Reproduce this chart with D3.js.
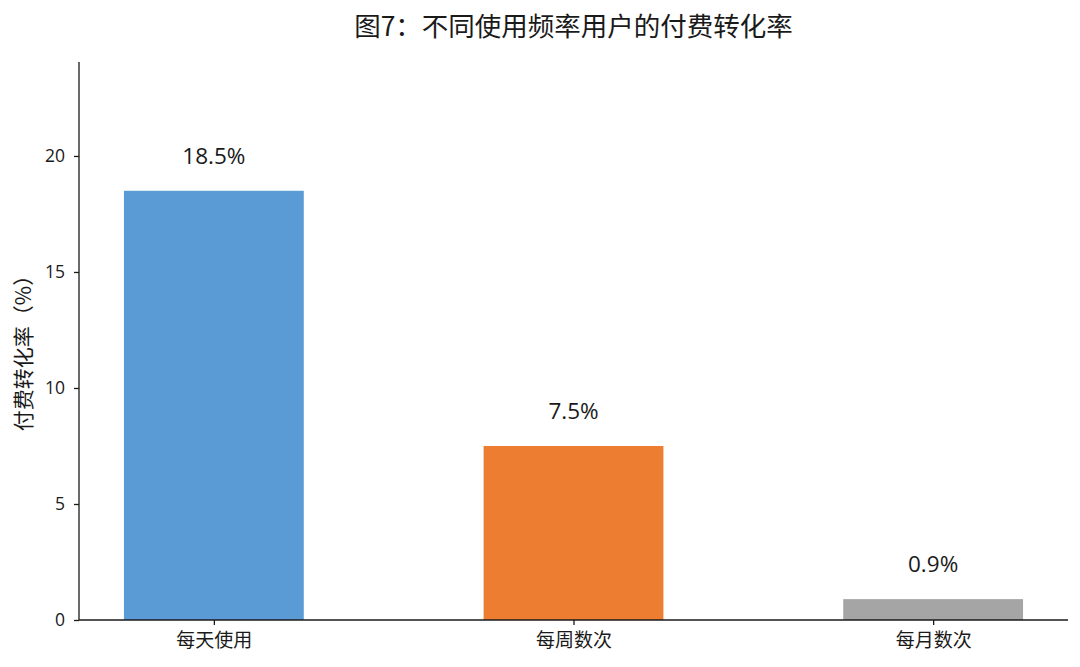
<!DOCTYPE html>
<html>
<head>
<meta charset="utf-8">
<script src="https://cdn.jsdelivr.net/npm/d3@7"></script>
<style>
  body { margin: 0; background: #fff; }
  text { font-family: "Open Sans", "Noto Sans CJK SC", sans-serif; fill: #1a1a1a; }
</style>
</head>
<body>
<div id="main"></div>
<script>
const categories = ["每天使用", "每周数次", "每月数次"];
const rates = [18.5, 7.5, 0.9];
const barColors = ["#5B9BD5", "#ED7D31", "#A5A5A5"];
const yTicks = [0, 5, 10, 15, 20];

const W = 1080, H = 667;
const m = { left: 79, right: 12, top: 62, bottom: 47 };
const FONT = '"Open Sans", "Noto Sans CJK SC", sans-serif';
const CJK = '"Noto Sans CJK SC", sans-serif';

const svg = d3.select("#main").append("svg")
    .attr("width", W).attr("height", H);

// bars centred at 0,1,2, width 0.5, 5% margins
const x = d3.scaleLinear().domain([-0.375, 2.375]).range([m.left, W - m.right]);
const y = d3.scaleLinear().domain([0, d3.max(rates) * 1.3]).range([H - m.bottom, m.top]);

svg.append("g")
    .selectAll("rect")
    .data(rates)
    .enter()
    .append("rect")
    .attr("x", (d, i) => x(i - 0.25))
    .attr("width", (d, i) => x(i + 0.25) - x(i - 0.25))
    .attr("y", d => y(d))
    .attr("height", d => y(0) - y(d))
    .attr("fill", (d, i) => barColors[i]);

// value labels
svg.append("g")
    .selectAll("text")
    .data(rates)
    .enter()
    .append("text")
    .attr("x", (d, i) => x(i))
    .attr("y", d => y(d + 1) - 4)
    .attr("text-anchor", "middle")
    .style("font-size", "22.5px")
    .text(d => d.toFixed(1) + "%");

// axes
const yAxis = svg.append("g")
    .attr("transform", `translate(${m.left},0)`)
    .call(d3.axisLeft(y).tickValues(yTicks).tickSize(5).tickPadding(9));
const xAxis = svg.append("g")
    .attr("transform", `translate(0,${H - m.bottom})`)
    .call(d3.axisBottom(x).tickValues([0, 1, 2]).tickFormat(i => categories[i]).tickSize(5).tickPadding(9));

[yAxis, xAxis].forEach(g => {
    g.select(".domain").attr("stroke", "#1a1a1a").attr("stroke-width", 1.3);
    g.selectAll(".tick line").attr("stroke", "#1a1a1a").attr("stroke-width", 1.3);
    g.selectAll(".tick text").attr("fill", "#1a1a1a").style("font-family", FONT);
});
yAxis.selectAll(".tick text").style("font-size", "17.5px");
xAxis.selectAll(".tick text").style("font-size", "19px").style("font-family", CJK);
yAxis.select(".domain").attr("d", `M0,${y.range()[0]}V${y.range()[1]}`);
xAxis.select(".domain").attr("d", `M${x.range()[0]},0H${x.range()[1]}`);

// y label
svg.append("text")
    .attr("transform", `translate(31,348) rotate(-90)`)
    .attr("text-anchor", "middle")
    .style("font-family", CJK)
    .style("font-size", "21px")
    .text("付费转化率（%）");

// title
svg.append("text")
    .attr("x", (m.left + W - m.right) / 2)
    .attr("y", 36)
    .attr("text-anchor", "middle")
    .style("font-family", CJK)
    .style("font-size", "26.5px")
    .text("图7：不同使用频率用户的付费转化率");
</script>
</body>
</html>
